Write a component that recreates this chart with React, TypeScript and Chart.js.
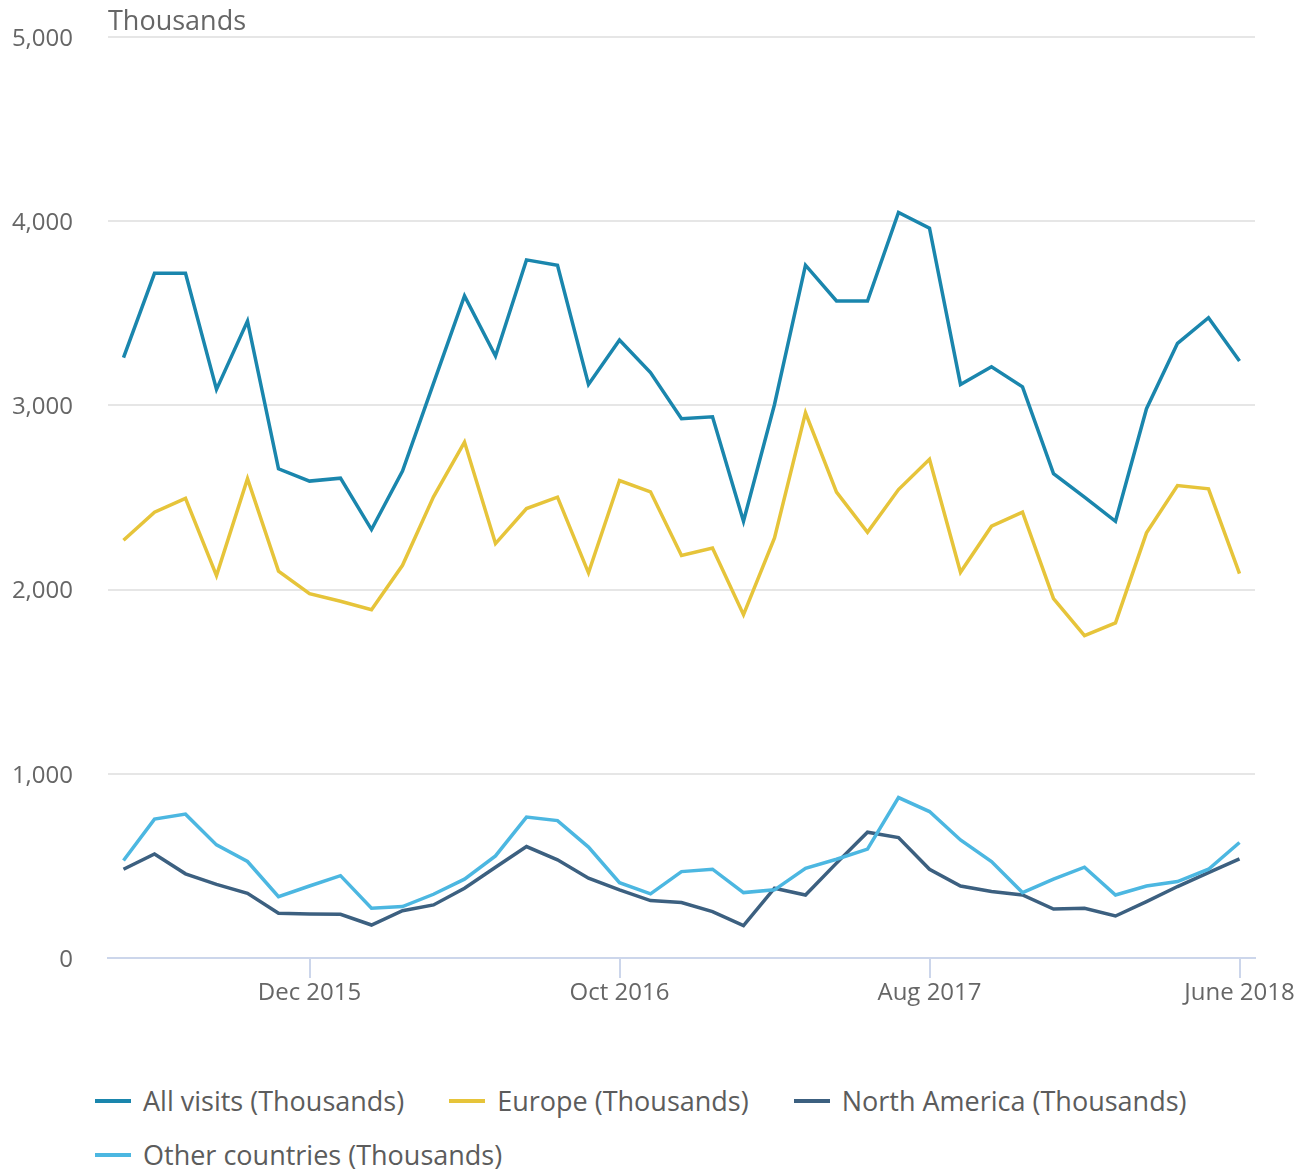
import React, { useEffect, useRef } from "react";
import { Chart, registerables } from "chart.js";

Chart.register(...registerables);

const categories = [
  "June 2015", "July 2015", "Aug 2015", "Sept 2015", "Oct 2015", "Nov 2015",
  "Dec 2015", "Jan 2016", "Feb 2016", "Mar 2016", "Apr 2016", "May 2016",
  "June 2016", "July 2016", "Aug 2016", "Sept 2016", "Oct 2016", "Nov 2016",
  "Dec 2016", "Jan 2017", "Feb 2017", "Mar 2017", "Apr 2017", "May 2017",
  "June 2017", "July 2017", "Aug 2017", "Sept 2017", "Oct 2017", "Nov 2017",
  "Dec 2017", "Jan 2018", "Feb 2018", "Mar 2018", "Apr 2018", "May 2018",
  "June 2018",
];

const allVisits = [
  3259, 3717, 3717, 3087, 3458, 2656, 2589, 2605, 2326, 2643, 3120, 3594,
  3268, 3790, 3761, 3114, 3355, 3178, 2928, 2938, 2371, 3005, 3761, 3567,
  3567, 4047, 3962, 3114, 3210, 3101, 2630, 2502, 2371, 2982, 3337, 3476,
  3241,
];

const europe = [
  2268, 2420, 2495, 2076, 2602, 2100, 1978, 1937, 1891, 2132, 2504, 2801,
  2250, 2440, 2502, 2091, 2592, 2531, 2185, 2226, 1864, 2281, 2960, 2529,
  2311, 2543, 2707, 2094, 2344, 2420, 1951, 1750, 1819, 2308, 2565, 2547,
  2087,
];

const northAmerica = [
  482, 565, 457, 400, 351, 243, 239, 237, 179, 257, 288, 379,
  493, 605, 533, 433, 370, 312, 301, 252, 176, 379, 342, 515,
  683, 654, 482, 391, 361, 342, 266, 270, 228, 306, 388, 464,
  538,
];

const otherCountries = [
  529, 754, 781, 614, 524, 333, 391, 447, 270, 279, 346, 428,
  554, 765, 746, 602, 409, 348, 469, 482, 355, 370, 487, 536,
  591, 871, 795, 641, 524, 355, 428, 493, 342, 391, 415, 482,
  627,
];

const seriesNames = [
  "All visits (Thousands)",
  "Europe (Thousands)",
  "North America (Thousands)",
  "Other countries (Thousands)",
];
const seriesColors = ["#1a86ad", "#e6c43a", "#3c6080", "#4cb7e1"];
const seriesValues = [allVisits, europe, northAmerica, otherCountries];

const yTicks = [0, 1000, 2000, 3000, 4000, 5000];
const xLabelStart = 6;
const xLabelEvery = 10;
const unitLabel = "Thousands";

const FONT = "'Open Sans', 'Noto Sans', sans-serif";

const unitPlugin = {
  id: "unitLabel",
  afterDraw(chart: any) {
    const { ctx, chartArea } = chart;
    ctx.save();
    ctx.font = `27px ${FONT}`;
    ctx.fillStyle = "#666666";
    ctx.textAlign = "left";
    ctx.textBaseline = "alphabetic";
    ctx.fillText(unitLabel, chartArea.left, chartArea.top - 7);
    ctx.restore();
  },
};

export default function App() {
  const canvasRef = useRef<HTMLCanvasElement | null>(null);

  useEffect(() => {
    if (!canvasRef.current) return;
    const showTick = (i: number) => i >= xLabelStart && (i - xLabelStart) % xLabelEvery === 0;
    const chart = new Chart(canvasRef.current, {
      type: "line",
      data: {
        labels: categories,
        datasets: seriesValues.map((vals, i) => ({
          label: seriesNames[i],
          data: vals,
          borderColor: seriesColors[i],
          backgroundColor: seriesColors[i],
          borderWidth: 3.5,
          pointRadius: 0,
          pointHoverRadius: 0,
          tension: 0,
          fill: false,
          borderJoinStyle: "miter" as const,
          borderCapStyle: "butt" as const,
          order: seriesValues.length - 1 - i,
        })),
      },
      options: {
        animation: false,
        responsive: true,
        maintainAspectRatio: false,
        layout: { padding: { top: 29, right: 48, left: 0, bottom: 0 } },
        plugins: {
          legend: { display: false },
          tooltip: { enabled: false },
          title: { display: false },
        },
        scales: {
          x: {
            type: "category",
            offset: true,
            afterFit: (scale: any) => {
              scale.height = 60;
            },
            border: { display: true, color: "#ccd6eb", width: 2 },
            grid: {
              drawOnChartArea: false,
              drawTicks: true,
              tickLength: 20,
              lineWidth: 2,
              color: (ctx: any) => (showTick(ctx.index) ? "#ccd6eb" : "rgba(0,0,0,0)"),
            },
            ticks: {
              autoSkip: false,
              maxRotation: 0,
              minRotation: 0,
              padding: 1,
              color: "#666666",
              font: { family: FONT, size: 24 },
              callback: (_v: any, i: number) => (showTick(i) ? categories[i] : ""),
            },
          },
          y: {
            min: yTicks[0],
            max: yTicks[yTicks.length - 1],
            afterFit: (scale: any) => {
              scale.width = 100;
            },
            afterBuildTicks: (scale: any) => {
              scale.ticks = yTicks.map((v) => ({ value: v }));
            },
            border: { display: false },
            grid: {
              drawTicks: true,
              tickLength: 35,
              tickColor: "rgba(0,0,0,0)",
              color: "#e6e6e6",
              lineWidth: 2,
            },
            ticks: {
              padding: 0,
              labelOffset: 2,
              color: "#666666",
              font: { family: FONT, size: 24 },
              callback: (v: any) => Number(v).toLocaleString("en-US"),
            },
          },
        },
      },
      plugins: [unitPlugin],
    });
    return () => chart.destroy();
  }, []);

  return (
    <div style={{ width: 1295, fontFamily: FONT }}>
      <div style={{ position: "relative", width: 1295, height: 1010 }}>
        <canvas ref={canvasRef} />
      </div>
      <div
        style={{
          marginTop: 56,
          paddingLeft: 87,
          display: "flex",
          flexWrap: "wrap",
          width: 1295 - 87,
          boxSizing: "content-box",
        }}
      >
        {seriesNames.map((name, i) => (
          <div
            key={name}
            style={{
              display: "flex",
              alignItems: "center",
              height: 54,
              marginRight: 45,
              whiteSpace: "nowrap",
            }}
          >
            <span
              style={{
                display: "inline-block",
                width: 36,
                height: 4,
                background: seriesColors[i],
                marginRight: 12,
              }}
            />
            <span style={{ fontSize: 27, color: "#5c5c5c", lineHeight: "54px" }}>{name}</span>
          </div>
        ))}
      </div>
    </div>
  );
}
